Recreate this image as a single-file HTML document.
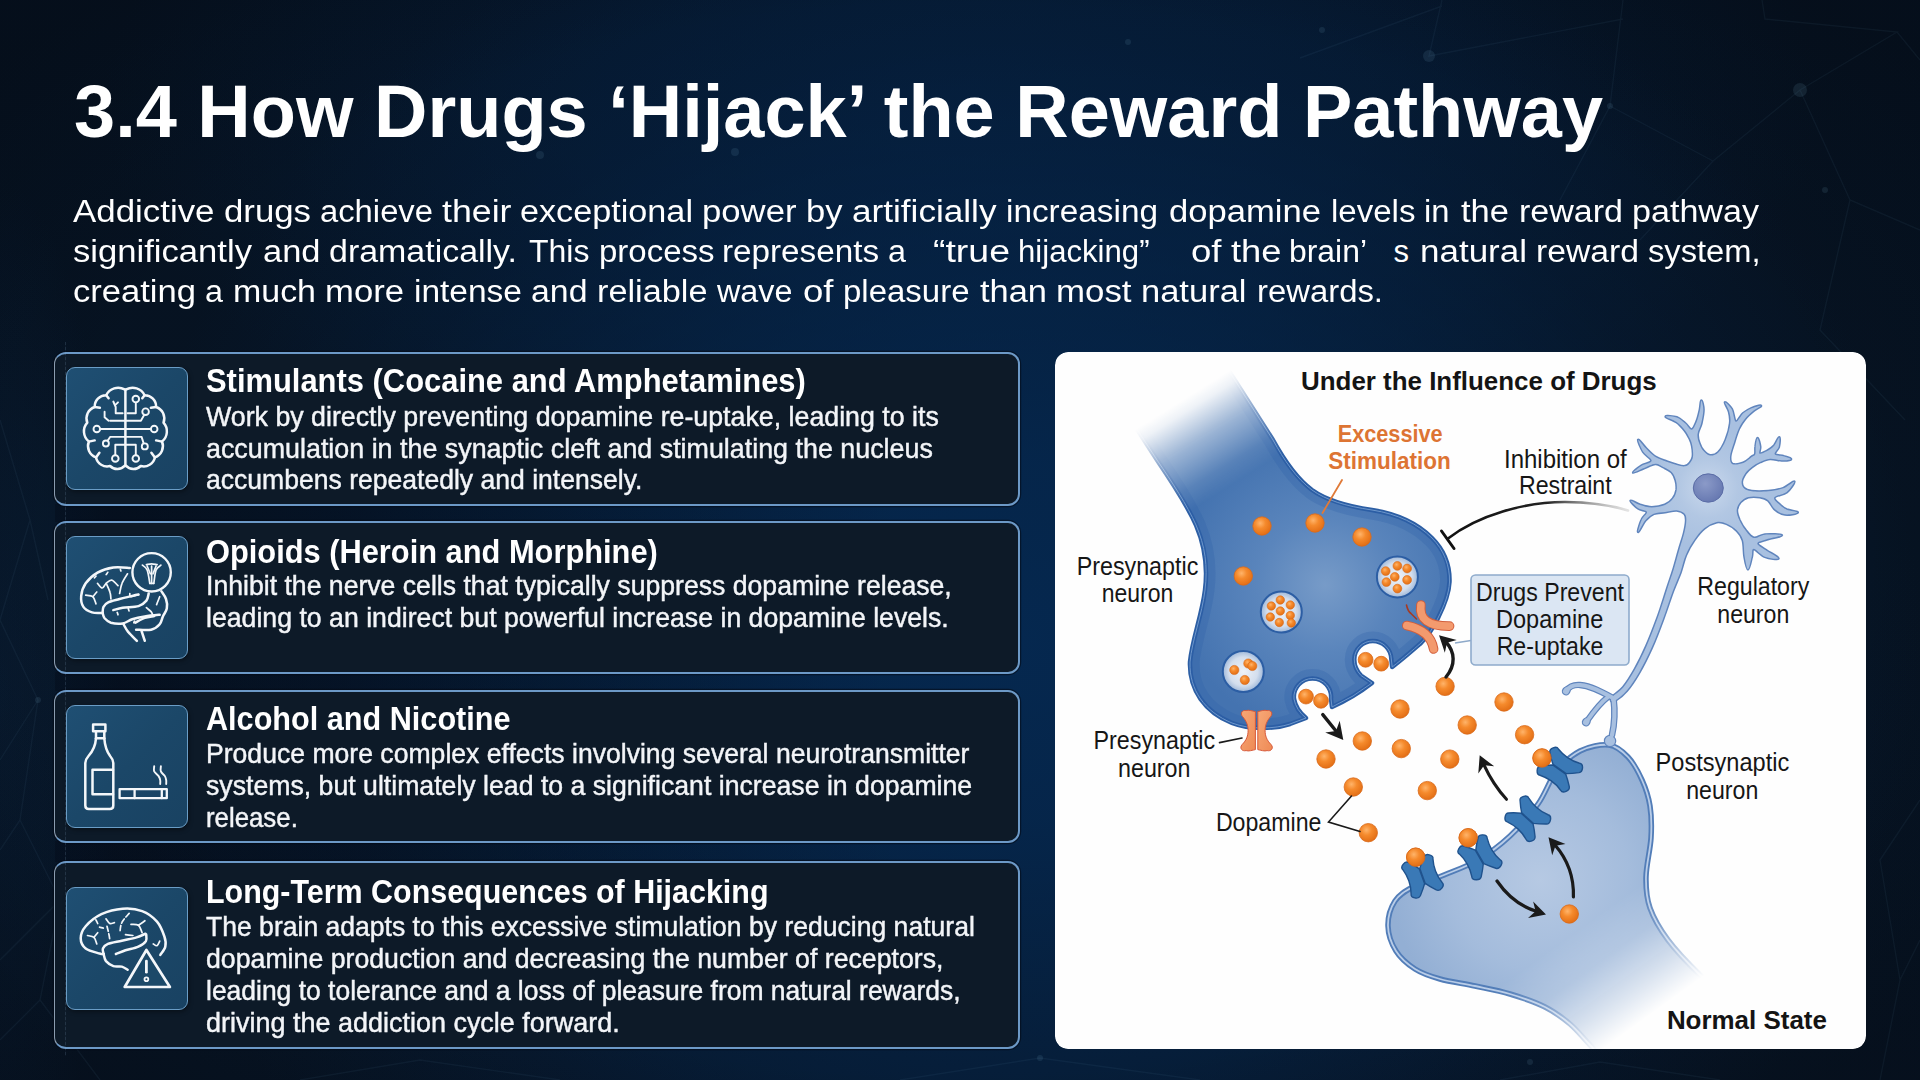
<!DOCTYPE html>
<html lang="en">
<head>
<meta charset="utf-8">
<title>3.4 How Drugs Hijack the Reward Pathway</title>
<style>
*{box-sizing:border-box;margin:0;padding:0}
html,body{width:1920px;height:1080px;overflow:hidden;background:#061322}
body{font-family:"Liberation Sans",sans-serif;color:#fff;position:relative}
#bg{position:absolute;left:0;top:0;width:1920px;height:1080px;
 background:
  radial-gradient(ellipse 1250px 740px at 960px 540px,rgba(3,7,14,0) 72%,rgba(3,7,14,.3) 100%),
  radial-gradient(ellipse 900px 800px at 1020px 640px,rgba(5,42,84,.9) 0%,rgba(5,42,84,.8) 22%,rgba(5,40,80,.55) 50%,rgba(6,36,72,.28) 75%,rgba(6,30,60,0) 100%),
  radial-gradient(ellipse 860px 400px at 960px 110px,rgba(5,30,60,.72) 0%,rgba(5,30,60,.5) 45%,rgba(5,30,60,0) 100%),
  radial-gradient(ellipse 120px 520px at 0px 700px,rgba(12,40,72,.32) 0%,rgba(12,40,72,.2) 55%,rgba(12,40,72,0) 100%),
  linear-gradient(180deg,#061221 0%,#061322 50%,#071424 100%);}
.gap{position:absolute;left:55px;width:963px;background:linear-gradient(90deg,rgba(3,10,24,.42) 0%,rgba(3,10,24,.34) 30%,rgba(3,10,24,.12) 65%,rgba(3,10,24,0) 88%)}
.t{position:absolute;white-space:pre;color:#fff;transform-origin:0 50%}
.card{position:absolute;left:54px;width:966px;border:2px solid #6c99c7;border-left:1.6px solid #8b9db0;border-radius:12px;background:#0d1a28;box-shadow:0 0 0 1.2px rgba(3,10,22,.6)}
.ico{position:absolute;left:65.5px;width:122px;height:123px;border:1.8px solid #6a9dc6;border-radius:9px;background:linear-gradient(135deg,#1f4f73 0%,#1b4768 50%,#194262 100%);box-shadow:1px 2px 4px rgba(0,0,0,.35)}
.ico svg{position:absolute;left:-.3px;top:-.9px}
</style>
</head>
<body>
<div id="bg"></div>
<svg width="1920" height="1080" viewBox="0 0 1920 1080" style="position:absolute;left:0;top:0" fill="none" stroke="#8fc0ee" stroke-opacity=".055" stroke-width="1.4">
<path d="M1300,58 L1442,6 M1442,0 L1429,56 L1623,19 M1623,0 L1610,106 L1560,200 M1762,0 L1765,19 L1897,32 L1800,90 L1713,161 L1640,240 M1897,32 L1920,60 M1800,90 L1850,200 L1920,230 M1850,200 L1820,330 L1905,420 M1610,106 L1713,161"/>
<path d="M0,620 L38,700 L20,820 L60,900 L0,960 M38,700 L0,760 M20,820 L0,850 M60,900 L40,1000 L100,1080 M40,1000 L0,1040 M0,420 L30,520 L0,620 M30,520 L48,600"/>
<path d="M300,1080 L420,1060 L560,1080 M900,1080 L1040,1058 L1200,1080 M1500,1080 L1600,1062 L1720,1080 M1880,1080 L1900,980 L1920,940 M1900,980 L1880,860 L1920,800"/>
<g fill="#8fd0f0" fill-opacity=".1" stroke="none">
<circle cx="1429" cy="56" r="6"/><circle cx="1800" cy="90" r="7"/><circle cx="540" cy="155" r="4"/><circle cx="735" cy="152" r="4"/><circle cx="1128" cy="42" r="3"/><circle cx="1322" cy="30" r="3"/><circle cx="1610" cy="106" r="3"/><circle cx="1825" cy="190" r="3"/>
<circle cx="38" cy="700" r="3"/><circle cx="1530" cy="1062" r="3"/><circle cx="1040" cy="1058" r="3"/>
</g>
</svg>

<div class="gap" style="top:504px;height:18px"></div><div class="gap" style="top:672px;height:19px"></div><div class="gap" style="top:841px;height:21px"></div>
<div class="card" style="top:352.2px;height:153.4px"></div>
<div class="card" style="top:520.6px;height:153.2px"></div>
<div class="card" style="top:690px;height:153.2px"></div>
<div class="card" style="top:861.4px;height:188px"></div>
<div class="ico" style="top:367px"><svg width="122" height="122" viewBox="0 0 122 122" fill="none" stroke="#f4f7fa" stroke-width="2.5" stroke-linecap="round" stroke-linejoin="round"><path d="M58.6,22.4A13.3,13.3 0 0 0 40.2,28.2A11.3,11.3 0 0 0 28.7,40.0A12.0,12.0 0 0 0 21.3,55.7A13.0,13.0 0 0 0 22.9,74.6A11.9,11.9 0 0 0 30.0,90.4A11.4,11.4 0 0 0 44.1,99.0A10.2,10.2 0 0 0 58.9,98.6"/><path d="M60.2,22.4A13.3,13.3 0 0 1 78.6,28.2A11.3,11.3 0 0 1 90.1,40.0A12.0,12.0 0 0 1 97.5,55.7A13.0,13.0 0 0 1 96.0,74.6A11.9,11.9 0 0 1 88.9,90.4A11.4,11.4 0 0 1 74.7,99.0A10.2,10.2 0 0 1 59.9,98.6"/><path d="M59.4,22.7 L59.4,99.0"/><g stroke-width="1.9"><circle cx="30.8" cy="62.0" r="3.3"/><circle cx="88.2" cy="62.0" r="3.3"/><path d="M34.4,62.0 L84.6,62.0"/><circle cx="69.8" cy="32.1" r="3.3"/><path d="M69.8,35.7 L69.8,46.3 L61.5,46.3"/><circle cx="79.6" cy="44.7" r="3.3"/><path d="M78.0,48.2 L74.9,53.7 L44.1,53.7"/><path d="M47.3,34.5 L49.7,40.0 L49.7,46.3 L56.7,46.3"/><path d="M52.0,35.3 L48.9,38.4" stroke-dasharray="3 2"/><path d="M38.6,44.7 L38.6,50.2 L42.6,53.7"/><circle cx="39.9" cy="76.5" r="3.0"/><path d="M41.8,73.4 L44.1,69.9 L75.6,69.9 L77.5,75.9"/><circle cx="78.8" cy="79.4" r="3.0"/><circle cx="49.3" cy="91.5" r="3.3"/><circle cx="69.8" cy="91.5" r="3.3"/><path d="M49.3,88.0 L49.3,77.8 L69.8,77.8 L69.8,88.0"/></g><path d="M28.7,40.0 L33.9,40.8"/><path d="M90.1,40.0 L84.9,40.8"/><path d="M22.9,74.6 L28.7,73.4"/><path d="M96.0,74.6 L90.1,73.4"/><path d="M30.0,90.4 L33.4,85.7"/><path d="M88.9,90.4 L85.4,85.7"/><path d="M40.2,28.2 L42.6,31.3"/><path d="M78.6,28.2 L76.3,31.3"/></svg></div>
<div class="ico" style="top:536px"><svg width="122" height="122" viewBox="0 0 122 122" fill="none" stroke="#f4f7fa" stroke-width="2.5" stroke-linecap="round" stroke-linejoin="round"><path d="M63.8,31.9C61.1,31.8 52.7,30.8 47.3,31.5C41.9,32.3 36.1,34.0 31.5,36.6C27.0,39.2 22.5,43.4 19.7,47.3C17.0,51.2 15.6,56.0 15.2,59.9C14.8,63.8 15.6,68.2 17.4,70.9C19.2,73.7 22.8,75.4 26.0,76.4C29.2,77.4 34.8,76.8 36.6,76.9"/><path d="M36.6,76.9C36.9,77.8 37.2,80.6 38.6,82.3C40.0,83.9 41.9,85.8 44.9,86.7C47.9,87.5 53.2,88.0 56.7,87.4C60.3,86.9 62.5,84.4 66.2,83.2C69.9,82.0 74.2,81.1 78.8,80.4C83.4,79.6 91.3,79.0 93.7,78.8"/><path d="M36.6,76.9C36.7,75.9 36.5,72.7 37.5,70.9C38.5,69.1 39.9,67.5 42.6,66.2C45.2,64.9 49.7,64.1 53.6,63.0C57.5,62.0 63.0,60.6 66.2,59.9C69.3,59.2 71.4,58.8 72.5,58.6"/><path d="M95.3,55.2C96.1,56.5 99.1,60.2 100.0,63.0C101.0,65.9 101.4,69.6 100.8,72.5C100.3,75.4 98.1,77.7 96.9,80.4C95.7,83.0 95.7,86.0 93.7,88.2C91.8,90.5 89.0,92.8 85.1,93.7C81.1,94.7 72.6,93.7 70.1,93.7"/><path d="M57.5,88.2C58.3,89.5 60.0,93.4 62.3,96.1C64.5,98.9 69.5,103.3 70.9,104.8"/><path d="M75.6,95.3C75.9,96.1 76.7,98.5 77.2,100.0C77.7,101.6 78.5,104.0 78.8,104.8"/><path d="M47.3,74.1C48.9,73.7 52.5,72.4 56.7,71.7C60.9,71.0 68.6,71.3 72.5,70.1C76.4,68.9 78.7,66.7 80.4,64.6C82.1,62.5 82.3,58.7 82.7,57.5"/><path d="M69.3,86.7C70.9,85.9 75.6,83.0 78.8,81.9C81.9,80.8 86.7,80.4 88.2,80.0"/><circle cx="85.6" cy="36.3" r="19.2" stroke-width="2.4"/><g stroke-width="1.7"><path d="M76.4,29.2C77.2,30.0 79.9,30.9 81.1,33.9C82.4,36.9 83.4,45.1 83.8,47.3"/><path d="M94.9,29.2C94.1,30.0 91.3,30.9 90.1,33.9C88.9,36.9 88.2,45.1 87.8,47.3"/><path d="M80.4,28.7C81.2,28.6 83.8,27.8 85.6,27.8C87.3,27.8 90.2,28.6 91.1,28.7"/><path d="M83.8,47.3C84.5,47.3 87.1,47.3 87.8,47.3"/><path d="M85.6,30.0C85.6,32.9 85.6,44.4 85.6,47.3"/><path d="M81.1,30.0C81.7,31.3 83.8,36.5 84.3,37.8"/><path d="M90.1,30.0C89.6,31.3 87.5,36.5 87.0,37.8"/><path d="M61.5,37.8C60.5,39.4 57.3,44.0 56.0,47.3C54.6,50.6 54.0,55.8 53.6,57.5"/><path d="M40.2,47.3C40.9,48.9 43.4,54.1 44.1,56.7C44.9,59.4 44.8,62.0 44.9,63.0"/><path d="M31.5,47.3C32.3,48.1 34.8,52.0 36.3,52.0C37.7,52.0 38.6,48.6 40.2,47.3C41.8,46.0 43.7,43.7 45.7,44.1C47.7,44.5 51.0,48.7 52.0,49.7"/><path d="M19.7,59.1C20.9,59.4 25.1,59.2 26.8,60.7C28.5,62.1 29.4,66.6 30.0,67.8"/><path d="M26.8,60.7C27.5,59.9 30.1,56.7 30.8,56.0"/><path d="M28.4,41.8C28.7,41.5 29.7,40.5 30.0,40.2"/><path d="M40.2,38.6C40.5,38.2 41.5,36.7 41.8,36.3"/><path d="M54.4,33.4C54.5,33.7 54.8,34.7 54.9,35.0"/><path d="M63.8,57.5C64.0,58.1 63.2,60.5 64.6,60.7C66.1,60.9 71.2,59.0 72.5,58.6"/><path d="M51.2,76.4C51.4,76.8 51.9,78.4 52.0,78.8"/><path d="M62.3,72.5C62.4,72.9 62.9,74.5 63.0,74.9"/><path d="M80.4,71.7C81.1,72.4 84.0,74.5 85.1,75.6C86.1,76.8 86.4,78.3 86.7,78.8"/><path d="M93.7,60.7C93.2,62.0 91.1,67.2 90.6,68.6"/><path d="M67.8,86.7C67.9,86.4 68.4,85.3 68.6,85.1"/></g></svg></div>
<div class="ico" style="top:705px"><svg width="122" height="122" viewBox="0 0 122 122" fill="none" stroke="#f4f7fa" stroke-width="2.5" stroke-linecap="round" stroke-linejoin="round"><g stroke-width="2.5"><path d="M27.1,19.6 L39.4,19.6 L39.4,26.2 L27.1,26.2Z"/><path d="M30,26.2 L30,33.3 C29.5,40 27,46 22.5,51 C20.3,53.5 19.3,55.5 19.3,58 L19.3,100.5 Q19.3,104 22.8,104 L43.8,104 Q47.3,104 47.3,100.5 L47.3,58 C47.3,55.5 46.3,53.5 44.1,51 C40.5,46 38.8,40 38.3,33.3 L38.3,26.2"/><path d="M30.0,33.3 L38.3,33.3"/><path d="M47.0,64.8 L26.5,64.8 L26.5,89.2 L47.0,89.2"/></g><g stroke-width="2.3"><path d="M53.6,84.2 L100.8,84.2 L100.8,93.2 L53.6,93.2Z"/><path d="M68.6,84.2 L68.6,93.2"/><path d="M95.8,84.2 L95.8,93.2"/></g><g stroke-width="1.9"><path d="M88.2,61.2C88.2,62.1 87.5,64.7 88.2,66.4C89.0,68.1 91.6,69.7 92.6,71.1C93.6,72.6 94.0,73.8 94.2,75.1C94.5,76.4 94.2,78.3 94.2,79.0"/><path d="M94.9,61.2C94.9,62.1 94.2,64.7 94.9,66.4C95.5,68.1 98.1,69.7 98.9,71.1C99.8,72.6 100.0,73.8 100.2,75.1C100.4,76.4 100.2,78.3 100.2,79.0"/></g></svg></div>
<div class="ico" style="top:887px"><svg width="122" height="122" viewBox="0 0 122 122" fill="none" stroke="#f4f7fa" stroke-width="2.5" stroke-linecap="round" stroke-linejoin="round"><path d="M94.3,68.0C95.1,66.6 98.6,62.7 99.3,59.6C100.0,56.6 99.8,53.6 98.4,49.5C97.0,45.3 94.7,38.9 91.0,34.6C87.3,30.4 81.9,26.2 76.1,24.1C70.4,21.9 63.5,21.1 56.7,21.7C49.9,22.2 41.6,24.3 35.4,27.2C29.2,30.2 23.1,35.3 19.7,39.3C16.2,43.3 14.7,47.6 14.7,51.3C14.7,55.0 16.5,59.0 19.7,61.5C22.8,64.0 30.6,65.6 33.6,66.5C36.5,67.4 37.0,67.0 37.6,67.0"/><path d="M37.6,67.0C37.5,66.1 36.2,63.2 36.9,61.5C37.6,59.8 38.7,58.2 41.9,56.9C45.0,55.6 51.0,54.8 55.8,53.7C60.6,52.6 66.6,51.6 70.6,50.4C74.5,49.2 78.0,47.3 79.5,46.7"/><path d="M37.6,67.0C38.0,68.2 38.4,72.1 40.0,74.1C41.7,76.1 44.8,78.2 47.4,79.1C50.1,80.0 53.4,79.0 55.8,79.6C58.2,80.3 60.7,82.3 61.7,82.8"/><path d="M49.9,67.0C51.5,66.4 55.7,64.6 59.5,63.3C63.2,62.1 69.0,61.2 72.4,59.6C75.8,58.1 78.6,56.1 79.9,54.1C81.1,52.1 80.2,48.7 80.2,47.6"/><g stroke-width="1.7"><path d="M63.2,26.3C62.0,27.8 57.3,32.3 55.8,35.6C54.2,38.8 54.2,44.1 53.9,45.7" stroke-dasharray="5 2.5"/><path d="M41.0,39.3C41.3,40.5 42.4,44.5 42.8,46.7C43.3,48.8 43.6,51.3 43.7,52.2" stroke-dasharray="5 2.5"/><path d="M40.0,31.9C40.7,32.6 42.4,35.9 43.7,36.5C45.1,37.1 47.6,35.7 48.4,35.6" /><path d="M29.9,32.8C30.2,33.4 31.4,35.9 31.7,36.5" /><path d="M21.5,48.5C22.6,48.8 26.5,49.0 28.0,50.4C29.5,51.8 30.3,55.8 30.8,56.9" /><path d="M28.0,50.4C28.6,49.6 31.1,46.5 31.7,45.7" /><path d="M65.0,37.4C66.3,37.6 70.6,37.0 72.4,38.3C74.3,39.7 75.5,44.5 76.1,45.7" /><path d="M72.4,38.3C73.5,37.6 77.8,34.5 78.9,33.7" /><path d="M87.3,56.9C87.9,57.2 89.9,59.2 91.0,58.7C92.0,58.2 93.3,54.9 93.7,54.1" /><path d="M59.5,47.6C60.7,47.8 65.7,48.4 66.9,48.5" /><path d="M33.6,40.2C34.2,40.3 36.6,41.0 37.3,41.1" /></g><path d="M80.4,63.0 L103.9,100.0 L58.7,100.0 Z" fill="#1c4969" stroke-width="2.7"/><path d="M80.4,74.1 L80.4,85.2" stroke-width="2.8"/><circle cx="80.4" cy="92.2" r="1.9" stroke-width="1.8"/></svg></div>
<div style="position:absolute;left:64.8px;top:342px;width:1px;height:714px;background:repeating-linear-gradient(180deg,rgba(150,185,220,.16) 0 3px,rgba(150,185,220,.04) 3px 5px)"></div>
<div class="t" style="left:73.5px;top:67.36px;font-size:74px;line-height:89px;font-weight:700;transform:scaleX(0.9995);color:#ffffff">3.4 How Drugs ‘Hijack’ the Reward Pathway</div>
<div class="t" style="left:72.5px;top:193.46px;font-size:31px;line-height:37px;font-weight:400;transform:scaleX(1.1248);color:#ffffff">Addictive</div>
<div class="t" style="left:223.5px;top:193.46px;font-size:31px;line-height:37px;font-weight:400;transform:scaleX(1.1219);color:#ffffff">drugs</div>
<div class="t" style="left:319.5px;top:193.46px;font-size:31px;line-height:37px;font-weight:400;transform:scaleX(1.0575);color:#ffffff">achieve</div>
<div class="t" style="left:442.0px;top:193.46px;font-size:31px;line-height:37px;font-weight:400;transform:scaleX(1.1523);color:#ffffff">their</div>
<div class="t" style="left:520.0px;top:193.46px;font-size:31px;line-height:37px;font-weight:400;transform:scaleX(1.1030);color:#ffffff">exceptional</div>
<div class="t" style="left:702.0px;top:193.46px;font-size:31px;line-height:37px;font-weight:400;transform:scaleX(1.1192);color:#ffffff">power</div>
<div class="t" style="left:806.0px;top:193.46px;font-size:31px;line-height:37px;font-weight:400;transform:scaleX(1.1145);color:#ffffff">by</div>
<div class="t" style="left:852.0px;top:193.46px;font-size:31px;line-height:37px;font-weight:400;transform:scaleX(1.1336);color:#ffffff">artificially</div>
<div class="t" style="left:1006.0px;top:193.46px;font-size:31px;line-height:37px;font-weight:400;transform:scaleX(1.0756);color:#ffffff">increasing</div>
<div class="t" style="left:1168.5px;top:193.46px;font-size:31px;line-height:37px;font-weight:400;transform:scaleX(1.1164);color:#ffffff">dopamine</div>
<div class="t" style="left:1331.0px;top:193.46px;font-size:31px;line-height:37px;font-weight:400;transform:scaleX(1.0660);color:#ffffff">levels</div>
<div class="t" style="left:1423.5px;top:193.46px;font-size:31px;line-height:37px;font-weight:400;transform:scaleX(1.0563);color:#ffffff">in</div>
<div class="t" style="left:1461.0px;top:193.46px;font-size:31px;line-height:37px;font-weight:400;transform:scaleX(1.1134);color:#ffffff">the</div>
<div class="t" style="left:1518.5px;top:193.46px;font-size:31px;line-height:37px;font-weight:400;transform:scaleX(1.0974);color:#ffffff">reward</div>
<div class="t" style="left:1632.0px;top:193.46px;font-size:31px;line-height:37px;font-weight:400;transform:scaleX(1.0999);color:#ffffff">pathway</div>
<div class="t" style="left:72.5px;top:233.06px;font-size:31px;line-height:37px;font-weight:400;transform:scaleX(1.1170);color:#ffffff">significantly</div>
<div class="t" style="left:262.5px;top:233.06px;font-size:31px;line-height:37px;font-weight:400;transform:scaleX(1.1114);color:#ffffff">and</div>
<div class="t" style="left:328.5px;top:233.06px;font-size:31px;line-height:37px;font-weight:400;transform:scaleX(1.0949);color:#ffffff">dramatically.</div>
<div class="t" style="left:528.5px;top:233.06px;font-size:31px;line-height:37px;font-weight:400;transform:scaleX(1.0328);color:#ffffff">This</div>
<div class="t" style="left:598.5px;top:233.06px;font-size:31px;line-height:37px;font-weight:400;transform:scaleX(1.0641);color:#ffffff">process</div>
<div class="t" style="left:722.0px;top:233.06px;font-size:31px;line-height:37px;font-weight:400;transform:scaleX(1.0719);color:#ffffff">represents</div>
<div class="t" style="left:887.5px;top:233.06px;font-size:31px;line-height:37px;font-weight:400;transform:scaleX(1.0435);color:#ffffff">a</div>
<div class="t" style="left:932.5px;top:233.06px;font-size:31px;line-height:37px;font-weight:400;transform:scaleX(1.2078);color:#ffffff">“true</div>
<div class="t" style="left:1017.5px;top:233.06px;font-size:31px;line-height:37px;font-weight:400;transform:scaleX(1.0042);color:#ffffff">hijacking”</div>
<div class="t" style="left:1191.0px;top:233.06px;font-size:31px;line-height:37px;font-weight:400;transform:scaleX(1.1795);color:#ffffff">of</div>
<div class="t" style="left:1231.0px;top:233.06px;font-size:31px;line-height:37px;font-weight:400;transform:scaleX(1.1714);color:#ffffff">the</div>
<div class="t" style="left:1288.5px;top:233.06px;font-size:31px;line-height:37px;font-weight:400;transform:scaleX(1.0286);color:#ffffff">brain’</div>
<div class="t" style="left:1393.5px;top:233.06px;font-size:31px;line-height:37px;font-weight:400;transform:scaleX(1.0000);color:#ffffff">s</div>
<div class="t" style="left:1419.5px;top:233.06px;font-size:31px;line-height:37px;font-weight:400;transform:scaleX(1.1287);color:#ffffff">natural</div>
<div class="t" style="left:1536.0px;top:233.06px;font-size:31px;line-height:37px;font-weight:400;transform:scaleX(1.0869);color:#ffffff">reward</div>
<div class="t" style="left:1647.5px;top:233.06px;font-size:31px;line-height:37px;font-weight:400;transform:scaleX(1.0534);color:#ffffff">system,</div>
<div class="t" style="left:72.5px;top:272.66px;font-size:31px;line-height:37px;font-weight:400;transform:scaleX(1.1152);color:#ffffff">creating</div>
<div class="t" style="left:205.0px;top:272.66px;font-size:31px;line-height:37px;font-weight:400;transform:scaleX(1.0435);color:#ffffff">a</div>
<div class="t" style="left:232.5px;top:272.66px;font-size:31px;line-height:37px;font-weight:400;transform:scaleX(1.0948);color:#ffffff">much</div>
<div class="t" style="left:325.0px;top:272.66px;font-size:31px;line-height:37px;font-weight:400;transform:scaleX(1.1183);color:#ffffff">more</div>
<div class="t" style="left:413.5px;top:272.66px;font-size:31px;line-height:37px;font-weight:400;transform:scaleX(1.0803);color:#ffffff">intense</div>
<div class="t" style="left:531.0px;top:272.66px;font-size:31px;line-height:37px;font-weight:400;transform:scaleX(1.0921);color:#ffffff">and</div>
<div class="t" style="left:597.0px;top:272.66px;font-size:31px;line-height:37px;font-weight:400;transform:scaleX(1.1055);color:#ffffff">reliable</div>
<div class="t" style="left:717.0px;top:272.66px;font-size:31px;line-height:37px;font-weight:400;transform:scaleX(1.0432);color:#ffffff">wave</div>
<div class="t" style="left:802.5px;top:272.66px;font-size:31px;line-height:37px;font-weight:400;transform:scaleX(1.1795);color:#ffffff">of</div>
<div class="t" style="left:842.5px;top:272.66px;font-size:31px;line-height:37px;font-weight:400;transform:scaleX(1.0637);color:#ffffff">pleasure</div>
<div class="t" style="left:979.5px;top:272.66px;font-size:31px;line-height:37px;font-weight:400;transform:scaleX(1.1103);color:#ffffff">than</div>
<div class="t" style="left:1056.0px;top:272.66px;font-size:31px;line-height:37px;font-weight:400;transform:scaleX(1.1237);color:#ffffff">most</div>
<div class="t" style="left:1141.0px;top:272.66px;font-size:31px;line-height:37px;font-weight:400;transform:scaleX(1.1129);color:#ffffff">natural</div>
<div class="t" style="left:1257.0px;top:272.66px;font-size:31px;line-height:37px;font-weight:400;transform:scaleX(1.0599);color:#ffffff">rewards.</div>
<div class="t" style="left:206.2px;top:362.31px;font-size:32.3px;line-height:39px;font-weight:700;transform:scaleX(0.9568);color:#ffffff">Stimulants (Cocaine and Amphetamines)</div>
<div class="t" style="left:206.2px;top:399.80px;font-size:28px;line-height:34px;font-weight:400;transform:scaleX(0.9557);color:#f3f5f8;-webkit-text-stroke:.45px #f3f5f8">Work by directly preventing dopamine re-uptake, leading to its</div>
<div class="t" style="left:206.2px;top:431.60px;font-size:28px;line-height:34px;font-weight:400;transform:scaleX(0.9589);color:#f3f5f8;-webkit-text-stroke:.45px #f3f5f8">accumulation in the synaptic cleft and stimulating the nucleus</div>
<div class="t" style="left:206.2px;top:463.40px;font-size:28px;line-height:34px;font-weight:400;transform:scaleX(0.9482);color:#f3f5f8;-webkit-text-stroke:.45px #f3f5f8">accumbens repeatedly and intensely.</div>
<div class="t" style="left:206.2px;top:532.51px;font-size:32.3px;line-height:39px;font-weight:700;transform:scaleX(0.9538);color:#ffffff">Opioids (Heroin and Morphine)</div>
<div class="t" style="left:206.2px;top:569.20px;font-size:28px;line-height:34px;font-weight:400;transform:scaleX(0.9507);color:#f3f5f8;-webkit-text-stroke:.45px #f3f5f8">Inhibit the nerve cells that typically suppress dopamine release,</div>
<div class="t" style="left:206.2px;top:601.40px;font-size:28px;line-height:34px;font-weight:400;transform:scaleX(0.9525);color:#f3f5f8;-webkit-text-stroke:.45px #f3f5f8">leading to an indirect but powerful increase in dopamine levels.</div>
<div class="t" style="left:206.2px;top:699.81px;font-size:32.3px;line-height:39px;font-weight:700;transform:scaleX(0.9482);color:#ffffff">Alcohol and Nicotine</div>
<div class="t" style="left:206.2px;top:737.00px;font-size:28px;line-height:34px;font-weight:400;transform:scaleX(0.9495);color:#f3f5f8;-webkit-text-stroke:.45px #f3f5f8">Produce more complex effects involving several neurotransmitter</div>
<div class="t" style="left:206.2px;top:769.00px;font-size:28px;line-height:34px;font-weight:400;transform:scaleX(0.9522);color:#f3f5f8;-webkit-text-stroke:.45px #f3f5f8">systems, but ultimately lead to a significant increase in dopamine</div>
<div class="t" style="left:206.2px;top:801.20px;font-size:28px;line-height:34px;font-weight:400;transform:scaleX(0.9215);color:#f3f5f8;-webkit-text-stroke:.45px #f3f5f8">release.</div>
<div class="t" style="left:206.2px;top:872.51px;font-size:32.3px;line-height:39px;font-weight:700;transform:scaleX(0.9422);color:#ffffff">Long-Term Consequences of Hijacking</div>
<div class="t" style="left:206.2px;top:909.80px;font-size:28px;line-height:34px;font-weight:400;transform:scaleX(0.9481);color:#f3f5f8;-webkit-text-stroke:.45px #f3f5f8">The brain adapts to this excessive stimulation by reducing natural</div>
<div class="t" style="left:206.2px;top:941.60px;font-size:28px;line-height:34px;font-weight:400;transform:scaleX(0.9533);color:#f3f5f8;-webkit-text-stroke:.45px #f3f5f8">dopamine production and decreasing the number of receptors,</div>
<div class="t" style="left:206.2px;top:973.80px;font-size:28px;line-height:34px;font-weight:400;transform:scaleX(0.9450);color:#f3f5f8;-webkit-text-stroke:.45px #f3f5f8">leading to tolerance and a loss of pleasure from natural rewards,</div>
<div class="t" style="left:206.2px;top:1006.00px;font-size:28px;line-height:34px;font-weight:400;transform:scaleX(0.9633);color:#f3f5f8;-webkit-text-stroke:.45px #f3f5f8">driving the addiction cycle forward.</div>
<svg id="figsvg" width="1920" height="1080" viewBox="0 0 1920 1080" style="position:absolute;left:0;top:0">
<clipPath id="cpFig"><rect x="1055" y="352" width="811" height="697" rx="13"/></clipPath>
<g clip-path="url(#cpFig)">
<defs>
<radialGradient id="gPre" gradientUnits="userSpaceOnUse" cx="1325" cy="585" r="150">
 <stop offset="0" stop-color="#779bc8"/><stop offset=".45" stop-color="#5a85bc"/><stop offset="1" stop-color="#4473b0"/>
</radialGradient>
<linearGradient id="gAxFade" gradientUnits="userSpaceOnUse" x1="1181" y1="401" x2="1233" y2="484">
 <stop offset="0" stop-color="#000"/><stop offset=".12" stop-color="#161616"/><stop offset=".45" stop-color="#8a8a8a"/><stop offset=".8" stop-color="#e2e2e2"/><stop offset="1" stop-color="#fff"/>
</linearGradient>
<mask id="mPre" maskUnits="userSpaceOnUse" x="1055" y="352" width="811" height="697">
 <rect x="1055" y="352" width="811" height="697" fill="#fff"/>
 <polygon points="1055,352 1420,352 1340,420 1100,570 1055,570" fill="url(#gAxFade)"/>
</mask>
<radialGradient id="gPost" gradientUnits="userSpaceOnUse" cx="1540" cy="880" r="150">
 <stop offset="0" stop-color="#b6c9e3"/><stop offset=".6" stop-color="#a4bcdc"/><stop offset="1" stop-color="#93afd4"/>
</radialGradient>
<linearGradient id="gPostFade" gradientUnits="userSpaceOnUse" x1="1585" y1="925" x2="1650" y2="1015">
 <stop offset="0" stop-color="#fff"/><stop offset=".35" stop-color="#ccc"/><stop offset="1" stop-color="#000"/>
</linearGradient>
<mask id="mPost" maskUnits="userSpaceOnUse" x="1055" y="352" width="811" height="697">
 <rect x="1055" y="352" width="811" height="697" fill="url(#gPostFade)"/>
</mask>
<radialGradient id="gDot" cx=".4" cy=".35" r=".65">
 <stop offset="0" stop-color="#ffb46a"/><stop offset=".45" stop-color="#f58a2c"/><stop offset="1" stop-color="#e36f16"/>
</radialGradient>
<radialGradient id="gVes" cx=".5" cy=".5" r=".5">
 <stop offset="0" stop-color="#eef2f8"/><stop offset=".7" stop-color="#d3deed"/><stop offset="1" stop-color="#9fb8d9"/>
</radialGradient>
<radialGradient id="gSoma" gradientUnits="userSpaceOnUse" cx="1708" cy="488" r="60">
 <stop offset="0" stop-color="#c9d8ec"/><stop offset=".5" stop-color="#b2c7e3"/><stop offset="1" stop-color="#a8c0e0"/>
</radialGradient>
<radialGradient id="gNuc" cx=".4" cy=".35" r=".7">
 <stop offset="0" stop-color="#8b9ac8"/><stop offset="1" stop-color="#6577b0"/>
</radialGradient>
<linearGradient id="gTr" x1="0" y1="0" x2="1" y2="1">
 <stop offset="0" stop-color="#f7a877"/><stop offset="1" stop-color="#ee8a55"/>
</linearGradient>
<linearGradient id="gInh" gradientUnits="userSpaceOnUse" x1="1448" y1="0" x2="1628" y2="0">
 <stop offset="0" stop-color="#111"/><stop offset=".55" stop-color="#222"/><stop offset="1" stop-color="#bbb" stop-opacity=".4"/>
</linearGradient>
<symbol id="trn" overflow="visible">
 <path d="M-1.2,-19 L-1.2,19 C-4,19.5 -8,21 -10.5,20 C-14.5,21 -17.5,17.5 -14.5,14 C-10,9.5 -8.5,5 -8.5,0 C-8.5,-5 -10,-9.5 -14,-14 C-17,-17.5 -14,-21 -10.5,-20 C-8,-21 -4,-19.5 -1.2,-19Z"/>
 <path d="M1.2,-19 L1.2,19 C4,19.5 8,21 10.5,20 C14.5,21 17.5,17.5 14.5,14 C10,9.5 8.5,5 8.5,0 C8.5,-5 10,-9.5 14,-14 C17,-17.5 14,-21 10.5,-20 C8,-21 4,-19.5 1.2,-19Z"/>
</symbol>
<symbol id="rec" overflow="visible">
 <path d="M-0.35,-7.5 Q-3.5,-12 -8.5,-17 C-11,-20 -18,-15.5 -16,-12 C-14.8,-8 -14.2,-4 -14.2,0.5 C-14.2,5 -15,9.5 -16.5,13.5 C-18.5,17.5 -11.5,21.5 -8.5,18.5 Q-3.5,13 -0.35,8.5Z"/>
 <path d="M0.35,-7.5 Q3.5,-12 8.5,-17 C11,-20 18,-15.5 16,-12 C14.8,-8 14.2,-4 14.2,0.5 C14.2,5 15,9.5 16.5,13.5 C18.5,17.5 11.5,21.5 8.5,18.5 Q3.5,13 0.35,8.5Z"/>
</symbol>
</defs>
<rect x="1055" y="352" width="811" height="697" rx="13" fill="#fefefe"/>
<g mask="url(#mPost)">
<path d="M1609.0,745.0C1617.0,746.0 1622.5,751.2 1628.0,757.0C1633.5,762.8 1638.3,771.8 1642.0,780.0C1645.7,788.2 1648.5,796.3 1650.0,806.0C1651.5,815.7 1651.7,826.2 1651.0,838.0C1650.3,849.8 1646.2,865.3 1646.0,877.0C1645.8,888.7 1646.3,897.5 1650.0,908.0C1653.7,918.5 1659.7,928.8 1668.0,940.0C1676.3,951.2 1688.0,963.3 1700.0,975.0C1712.0,986.7 1740.0,992.5 1740.0,1010.0C1740.0,1027.5 1720.0,1069.2 1700.0,1080.0C1680.0,1090.8 1638.2,1080.7 1620.0,1075.0C1601.8,1069.3 1599.3,1054.5 1591.0,1046.0C1582.7,1037.5 1577.7,1030.5 1570.0,1024.0C1562.3,1017.5 1555.0,1012.0 1545.0,1007.0C1535.0,1002.0 1521.7,997.5 1510.0,994.0C1498.3,990.5 1486.7,988.5 1475.0,986.0C1463.3,983.5 1450.0,981.8 1440.0,979.0C1430.0,976.2 1422.3,973.7 1415.0,969.0C1407.7,964.3 1400.5,958.2 1396.0,951.0C1391.5,943.8 1388.2,934.3 1388.0,926.0C1387.8,917.7 1390.8,907.5 1395.0,901.0C1399.2,894.5 1404.8,891.3 1413.0,887.0C1421.2,882.7 1433.2,879.5 1444.0,875.0C1454.8,870.5 1467.0,866.5 1478.0,860.0C1489.0,853.5 1500.0,845.3 1510.0,836.0C1520.0,826.7 1530.3,814.7 1538.0,804.0C1545.7,793.3 1549.0,780.8 1556.0,772.0C1563.0,763.2 1571.2,755.5 1580.0,751.0C1588.8,746.5 1601.0,744.0 1609.0,745.0Z" fill="url(#gPost)" stroke="#527db8" stroke-width="5.5" stroke-linejoin="round"/>
<path d="M1609.0,745.0C1617.0,746.0 1622.5,751.2 1628.0,757.0C1633.5,762.8 1638.3,771.8 1642.0,780.0C1645.7,788.2 1648.5,796.3 1650.0,806.0C1651.5,815.7 1651.7,826.2 1651.0,838.0C1650.3,849.8 1646.2,865.3 1646.0,877.0C1645.8,888.7 1646.3,897.5 1650.0,908.0C1653.7,918.5 1659.7,928.8 1668.0,940.0C1676.3,951.2 1688.0,963.3 1700.0,975.0C1712.0,986.7 1740.0,992.5 1740.0,1010.0C1740.0,1027.5 1720.0,1069.2 1700.0,1080.0C1680.0,1090.8 1638.2,1080.7 1620.0,1075.0C1601.8,1069.3 1599.3,1054.5 1591.0,1046.0C1582.7,1037.5 1577.7,1030.5 1570.0,1024.0C1562.3,1017.5 1555.0,1012.0 1545.0,1007.0C1535.0,1002.0 1521.7,997.5 1510.0,994.0C1498.3,990.5 1486.7,988.5 1475.0,986.0C1463.3,983.5 1450.0,981.8 1440.0,979.0C1430.0,976.2 1422.3,973.7 1415.0,969.0C1407.7,964.3 1400.5,958.2 1396.0,951.0C1391.5,943.8 1388.2,934.3 1388.0,926.0C1387.8,917.7 1390.8,907.5 1395.0,901.0C1399.2,894.5 1404.8,891.3 1413.0,887.0C1421.2,882.7 1433.2,879.5 1444.0,875.0C1454.8,870.5 1467.0,866.5 1478.0,860.0C1489.0,853.5 1500.0,845.3 1510.0,836.0C1520.0,826.7 1530.3,814.7 1538.0,804.0C1545.7,793.3 1549.0,780.8 1556.0,772.0C1563.0,763.2 1571.2,755.5 1580.0,751.0C1588.8,746.5 1601.0,744.0 1609.0,745.0Z" fill="none" stroke="#b9cde8" stroke-width="1.8"/>
</g>
<g fill="none" stroke-linecap="round" stroke-linejoin="round" stroke="#6085bd">
<path d="M1614,698.5 C1604,693 1592,686 1580,685 C1574,684.5 1569,687 1566.5,690.5" stroke-width="6.4"/>
<path d="M1608,697 C1600,703 1594,711 1587,721" stroke-width="6.2"/>
<path d="M1613.5,698 C1615,710 1615,722 1612,735" stroke-width="6.6"/>
<path d="M1566.5,690.5 l-.5,.8 M1586.5,721.5 l-.5,.8" stroke-width="8.4"/>
<path d="M1610,741 l.1,.1" stroke-width="12.4"/>
<path d="M1665.8,416.7C1665.8,415.9 1673.5,416.4 1676.7,417.5C1679.9,418.6 1682.5,421.3 1685.0,423.3C1687.5,425.4 1689.7,429.9 1691.7,429.7C1693.6,429.4 1695.3,424.9 1696.7,421.7C1698.1,418.4 1699.2,413.5 1700.0,410.0C1700.8,406.5 1700.8,400.8 1701.3,400.8C1701.9,400.8 1703.4,406.2 1703.3,410.0C1703.3,413.8 1702.1,419.3 1701.2,423.3C1700.2,427.4 1697.8,430.8 1697.5,434.2C1697.2,437.5 1698.2,440.6 1699.2,443.3C1700.1,446.1 1701.5,448.8 1703.3,450.8C1705.1,452.9 1707.5,455.2 1710.0,455.5C1712.5,455.8 1715.7,455.1 1718.3,452.5C1721.0,449.9 1723.8,444.9 1725.8,440.0C1727.8,435.1 1729.8,428.1 1730.3,423.3C1730.9,418.6 1730.1,415.1 1729.2,411.7C1728.3,408.2 1724.6,402.9 1725.0,402.5C1725.4,402.1 1729.9,406.0 1731.7,409.2C1733.5,412.4 1733.9,421.0 1735.8,421.7C1737.8,422.4 1740.7,415.6 1743.3,413.3C1746.0,411.1 1748.8,409.6 1751.7,408.3C1754.6,407.1 1760.6,405.4 1760.8,405.8C1761.1,406.2 1756.0,408.7 1753.3,410.8C1750.7,413.0 1747.4,415.7 1745.0,418.7C1742.6,421.6 1740.6,424.6 1738.7,428.7C1736.8,432.8 1735.1,438.7 1733.7,443.3C1732.2,448.0 1730.2,453.2 1730.0,456.7C1729.8,460.1 1730.3,463.1 1732.5,464.2C1734.7,465.2 1740.1,464.2 1743.3,463.0C1746.5,461.8 1749.7,458.5 1751.7,457.0C1753.7,455.5 1754.7,455.9 1755.3,454.2C1756.0,452.4 1755.3,449.3 1755.7,446.7C1756.0,444.0 1756.8,438.3 1757.5,438.3C1758.2,438.3 1759.7,444.1 1760.0,446.7C1760.3,449.2 1758.4,452.9 1759.5,453.7C1760.6,454.4 1764.2,452.6 1766.7,451.3C1769.1,450.0 1772.1,448.1 1774.2,445.8C1776.2,443.5 1778.4,437.4 1779.2,437.5C1779.9,437.6 1779.4,443.9 1778.7,446.7C1777.9,449.4 1773.9,452.6 1774.7,454.2C1775.4,455.8 1780.6,455.5 1783.3,456.3C1786.0,457.2 1791.1,458.5 1790.8,459.2C1790.6,459.8 1785.1,460.4 1781.7,460.3C1778.2,460.2 1773.6,458.4 1770.0,458.7C1766.4,458.9 1763.1,460.6 1760.0,462.0C1756.9,463.4 1754.1,465.1 1751.7,467.0C1749.2,468.9 1747.0,470.9 1745.3,473.3C1743.7,475.7 1741.9,478.9 1741.7,481.3C1741.4,483.8 1742.0,486.3 1743.7,488.0C1745.3,489.7 1747.6,490.8 1751.7,491.3C1755.8,491.9 1763.1,491.8 1768.3,491.3C1773.6,490.8 1779.0,489.9 1783.3,488.3C1787.6,486.7 1793.6,481.1 1794.2,481.7C1794.7,482.3 1790.0,489.4 1786.7,492.0C1783.3,494.6 1775.3,495.3 1774.2,497.5C1773.1,499.7 1777.9,503.0 1780.0,505.0C1782.1,507.0 1783.8,508.4 1786.7,509.7C1789.6,510.9 1797.8,511.7 1797.5,512.5C1797.2,513.3 1788.8,514.9 1785.0,514.3C1781.2,513.8 1777.8,511.7 1775.0,509.3C1772.2,507.0 1770.8,502.4 1768.3,500.3C1765.8,498.3 1763.3,497.6 1760.0,497.0C1756.7,496.4 1751.6,496.2 1748.3,497.0C1745.1,497.8 1742.3,499.8 1740.3,502.0C1738.4,504.2 1736.8,507.3 1736.7,510.3C1736.5,513.3 1737.9,516.7 1739.3,520.0C1740.8,523.3 1742.9,527.0 1745.3,530.0C1747.7,533.0 1750.4,537.2 1753.7,538.0C1756.9,538.8 1760.3,535.1 1765.0,534.7C1769.7,534.2 1781.4,534.6 1781.7,535.3C1781.9,536.1 1770.7,538.0 1766.7,539.3C1762.6,540.7 1757.6,541.6 1757.3,543.3C1757.1,545.1 1761.5,547.2 1765.0,549.7C1768.5,552.2 1778.3,557.2 1778.3,558.3C1778.3,559.5 1769.1,558.3 1765.0,556.7C1760.9,555.1 1755.9,548.7 1753.7,548.7C1751.4,548.7 1752.6,553.2 1751.7,556.7C1750.7,560.1 1749.2,569.2 1748.0,569.2C1746.8,569.2 1745.5,561.5 1744.7,556.7C1743.8,551.9 1744.3,544.7 1743.0,540.3C1741.7,535.9 1739.4,533.1 1736.7,530.3C1733.9,527.6 1730.0,525.1 1726.7,523.7C1723.3,522.3 1720.4,521.2 1716.7,522.0C1712.9,522.8 1707.9,525.3 1704.2,528.3C1700.4,531.3 1697.2,535.6 1694.2,540.0C1691.1,544.4 1688.1,549.6 1685.8,555.0C1683.5,560.4 1682.5,566.2 1680.4,572.2C1678.2,578.2 1675.7,583.2 1672.8,591.0C1669.9,598.8 1666.6,609.4 1663.0,618.9C1659.5,628.4 1655.4,639.2 1651.4,648.1C1647.4,656.9 1643.3,665.2 1639.2,672.2C1635.1,679.3 1630.8,685.9 1626.8,690.5C1622.9,695.2 1618.1,698.5 1615.5,700.2C1612.9,702.0 1612.0,701.6 1611.5,701.0C1611.0,700.4 1610.6,699.0 1612.5,696.8C1614.4,694.5 1619.4,692.0 1623.2,687.5C1626.9,683.0 1630.9,676.7 1634.8,669.8C1638.7,662.8 1642.8,654.7 1646.6,645.9C1650.5,637.2 1654.5,626.6 1658.0,617.1C1661.4,607.6 1664.6,596.9 1667.2,589.0C1669.8,581.1 1671.6,576.3 1673.6,569.8C1675.6,563.3 1677.4,556.1 1679.2,550.0C1680.9,543.9 1683.0,538.2 1684.2,533.3C1685.4,528.5 1686.2,524.1 1686.3,520.8C1686.4,517.6 1686.3,515.4 1684.7,513.7C1683.1,511.9 1679.9,510.6 1676.7,510.3C1673.4,510.1 1668.8,511.4 1665.0,512.0C1661.2,512.6 1656.9,512.3 1653.7,513.7C1650.4,515.1 1647.9,517.3 1645.3,520.3C1642.8,523.3 1638.9,531.7 1638.3,531.7C1637.7,531.6 1640.2,523.3 1641.7,520.0C1643.1,516.7 1647.6,513.9 1647.0,512.0C1646.4,510.1 1641.0,510.2 1638.3,508.3C1635.6,506.5 1630.6,501.4 1630.8,500.8C1631.1,500.3 1636.5,503.9 1640.0,505.0C1643.5,506.1 1647.5,507.5 1651.7,507.5C1655.8,507.5 1661.4,506.5 1665.0,505.0C1668.6,503.5 1671.4,500.8 1673.3,498.3C1675.3,495.8 1676.2,493.1 1676.7,490.0C1677.1,486.9 1676.7,483.0 1675.8,480.0C1675.0,477.0 1673.8,474.2 1671.7,472.0C1669.6,469.8 1666.1,468.4 1663.3,467.0C1660.6,465.6 1658.7,463.4 1655.3,463.7C1652.0,463.9 1647.0,466.9 1643.3,468.3C1639.7,469.8 1633.6,472.9 1633.3,472.5C1633.1,472.1 1638.6,467.8 1641.7,465.8C1644.7,463.9 1651.4,463.2 1651.7,460.8C1651.9,458.5 1645.6,455.1 1643.3,451.7C1641.1,448.2 1637.9,440.6 1638.3,440.0C1638.8,439.4 1643.1,445.6 1645.8,448.3C1648.6,451.1 1651.5,454.4 1655.0,456.7C1658.5,458.9 1663.1,460.3 1666.7,461.7C1670.3,463.1 1673.6,464.2 1676.7,465.0C1679.7,465.8 1682.8,466.7 1685.0,466.3C1687.2,466.0 1688.7,464.6 1690.0,463.0C1691.3,461.4 1692.6,459.5 1693.0,456.7C1693.4,453.8 1692.9,448.9 1692.3,445.8C1691.8,442.8 1690.9,440.9 1689.7,438.3C1688.4,435.8 1687.2,433.2 1685.0,430.5C1682.8,427.8 1679.9,424.3 1676.7,422.0C1673.5,419.7 1665.8,417.4 1665.8,416.7Z" fill="#6085bd" stroke-width="3"/>
</g>
<g fill="none" stroke-linecap="round" stroke-linejoin="round" stroke="#a8c0e0">
<path d="M1614,698.5 C1604,693 1592,686 1580,685 C1574,684.5 1569,687 1566.5,690.5" stroke-width="4.0"/>
<path d="M1608,697 C1600,703 1594,711 1587,721" stroke-width="3.8"/>
<path d="M1613.5,698 C1615,710 1615,722 1612,735" stroke-width="4.2"/>
<path d="M1566.5,690.5 l-.5,.8 M1586.5,721.5 l-.5,.8" stroke-width="6.0"/>
<path d="M1610,741 l.1,.1" stroke-width="10.0"/>
</g>
<path d="M1665.8,416.7C1665.8,415.9 1673.5,416.4 1676.7,417.5C1679.9,418.6 1682.5,421.3 1685.0,423.3C1687.5,425.4 1689.7,429.9 1691.7,429.7C1693.6,429.4 1695.3,424.9 1696.7,421.7C1698.1,418.4 1699.2,413.5 1700.0,410.0C1700.8,406.5 1700.8,400.8 1701.3,400.8C1701.9,400.8 1703.4,406.2 1703.3,410.0C1703.3,413.8 1702.1,419.3 1701.2,423.3C1700.2,427.4 1697.8,430.8 1697.5,434.2C1697.2,437.5 1698.2,440.6 1699.2,443.3C1700.1,446.1 1701.5,448.8 1703.3,450.8C1705.1,452.9 1707.5,455.2 1710.0,455.5C1712.5,455.8 1715.7,455.1 1718.3,452.5C1721.0,449.9 1723.8,444.9 1725.8,440.0C1727.8,435.1 1729.8,428.1 1730.3,423.3C1730.9,418.6 1730.1,415.1 1729.2,411.7C1728.3,408.2 1724.6,402.9 1725.0,402.5C1725.4,402.1 1729.9,406.0 1731.7,409.2C1733.5,412.4 1733.9,421.0 1735.8,421.7C1737.8,422.4 1740.7,415.6 1743.3,413.3C1746.0,411.1 1748.8,409.6 1751.7,408.3C1754.6,407.1 1760.6,405.4 1760.8,405.8C1761.1,406.2 1756.0,408.7 1753.3,410.8C1750.7,413.0 1747.4,415.7 1745.0,418.7C1742.6,421.6 1740.6,424.6 1738.7,428.7C1736.8,432.8 1735.1,438.7 1733.7,443.3C1732.2,448.0 1730.2,453.2 1730.0,456.7C1729.8,460.1 1730.3,463.1 1732.5,464.2C1734.7,465.2 1740.1,464.2 1743.3,463.0C1746.5,461.8 1749.7,458.5 1751.7,457.0C1753.7,455.5 1754.7,455.9 1755.3,454.2C1756.0,452.4 1755.3,449.3 1755.7,446.7C1756.0,444.0 1756.8,438.3 1757.5,438.3C1758.2,438.3 1759.7,444.1 1760.0,446.7C1760.3,449.2 1758.4,452.9 1759.5,453.7C1760.6,454.4 1764.2,452.6 1766.7,451.3C1769.1,450.0 1772.1,448.1 1774.2,445.8C1776.2,443.5 1778.4,437.4 1779.2,437.5C1779.9,437.6 1779.4,443.9 1778.7,446.7C1777.9,449.4 1773.9,452.6 1774.7,454.2C1775.4,455.8 1780.6,455.5 1783.3,456.3C1786.0,457.2 1791.1,458.5 1790.8,459.2C1790.6,459.8 1785.1,460.4 1781.7,460.3C1778.2,460.2 1773.6,458.4 1770.0,458.7C1766.4,458.9 1763.1,460.6 1760.0,462.0C1756.9,463.4 1754.1,465.1 1751.7,467.0C1749.2,468.9 1747.0,470.9 1745.3,473.3C1743.7,475.7 1741.9,478.9 1741.7,481.3C1741.4,483.8 1742.0,486.3 1743.7,488.0C1745.3,489.7 1747.6,490.8 1751.7,491.3C1755.8,491.9 1763.1,491.8 1768.3,491.3C1773.6,490.8 1779.0,489.9 1783.3,488.3C1787.6,486.7 1793.6,481.1 1794.2,481.7C1794.7,482.3 1790.0,489.4 1786.7,492.0C1783.3,494.6 1775.3,495.3 1774.2,497.5C1773.1,499.7 1777.9,503.0 1780.0,505.0C1782.1,507.0 1783.8,508.4 1786.7,509.7C1789.6,510.9 1797.8,511.7 1797.5,512.5C1797.2,513.3 1788.8,514.9 1785.0,514.3C1781.2,513.8 1777.8,511.7 1775.0,509.3C1772.2,507.0 1770.8,502.4 1768.3,500.3C1765.8,498.3 1763.3,497.6 1760.0,497.0C1756.7,496.4 1751.6,496.2 1748.3,497.0C1745.1,497.8 1742.3,499.8 1740.3,502.0C1738.4,504.2 1736.8,507.3 1736.7,510.3C1736.5,513.3 1737.9,516.7 1739.3,520.0C1740.8,523.3 1742.9,527.0 1745.3,530.0C1747.7,533.0 1750.4,537.2 1753.7,538.0C1756.9,538.8 1760.3,535.1 1765.0,534.7C1769.7,534.2 1781.4,534.6 1781.7,535.3C1781.9,536.1 1770.7,538.0 1766.7,539.3C1762.6,540.7 1757.6,541.6 1757.3,543.3C1757.1,545.1 1761.5,547.2 1765.0,549.7C1768.5,552.2 1778.3,557.2 1778.3,558.3C1778.3,559.5 1769.1,558.3 1765.0,556.7C1760.9,555.1 1755.9,548.7 1753.7,548.7C1751.4,548.7 1752.6,553.2 1751.7,556.7C1750.7,560.1 1749.2,569.2 1748.0,569.2C1746.8,569.2 1745.5,561.5 1744.7,556.7C1743.8,551.9 1744.3,544.7 1743.0,540.3C1741.7,535.9 1739.4,533.1 1736.7,530.3C1733.9,527.6 1730.0,525.1 1726.7,523.7C1723.3,522.3 1720.4,521.2 1716.7,522.0C1712.9,522.8 1707.9,525.3 1704.2,528.3C1700.4,531.3 1697.2,535.6 1694.2,540.0C1691.1,544.4 1688.1,549.6 1685.8,555.0C1683.5,560.4 1682.5,566.2 1680.4,572.2C1678.2,578.2 1675.7,583.2 1672.8,591.0C1669.9,598.8 1666.6,609.4 1663.0,618.9C1659.5,628.4 1655.4,639.2 1651.4,648.1C1647.4,656.9 1643.3,665.2 1639.2,672.2C1635.1,679.3 1630.8,685.9 1626.8,690.5C1622.9,695.2 1618.1,698.5 1615.5,700.2C1612.9,702.0 1612.0,701.6 1611.5,701.0C1611.0,700.4 1610.6,699.0 1612.5,696.8C1614.4,694.5 1619.4,692.0 1623.2,687.5C1626.9,683.0 1630.9,676.7 1634.8,669.8C1638.7,662.8 1642.8,654.7 1646.6,645.9C1650.5,637.2 1654.5,626.6 1658.0,617.1C1661.4,607.6 1664.6,596.9 1667.2,589.0C1669.8,581.1 1671.6,576.3 1673.6,569.8C1675.6,563.3 1677.4,556.1 1679.2,550.0C1680.9,543.9 1683.0,538.2 1684.2,533.3C1685.4,528.5 1686.2,524.1 1686.3,520.8C1686.4,517.6 1686.3,515.4 1684.7,513.7C1683.1,511.9 1679.9,510.6 1676.7,510.3C1673.4,510.1 1668.8,511.4 1665.0,512.0C1661.2,512.6 1656.9,512.3 1653.7,513.7C1650.4,515.1 1647.9,517.3 1645.3,520.3C1642.8,523.3 1638.9,531.7 1638.3,531.7C1637.7,531.6 1640.2,523.3 1641.7,520.0C1643.1,516.7 1647.6,513.9 1647.0,512.0C1646.4,510.1 1641.0,510.2 1638.3,508.3C1635.6,506.5 1630.6,501.4 1630.8,500.8C1631.1,500.3 1636.5,503.9 1640.0,505.0C1643.5,506.1 1647.5,507.5 1651.7,507.5C1655.8,507.5 1661.4,506.5 1665.0,505.0C1668.6,503.5 1671.4,500.8 1673.3,498.3C1675.3,495.8 1676.2,493.1 1676.7,490.0C1677.1,486.9 1676.7,483.0 1675.8,480.0C1675.0,477.0 1673.8,474.2 1671.7,472.0C1669.6,469.8 1666.1,468.4 1663.3,467.0C1660.6,465.6 1658.7,463.4 1655.3,463.7C1652.0,463.9 1647.0,466.9 1643.3,468.3C1639.7,469.8 1633.6,472.9 1633.3,472.5C1633.1,472.1 1638.6,467.8 1641.7,465.8C1644.7,463.9 1651.4,463.2 1651.7,460.8C1651.9,458.5 1645.6,455.1 1643.3,451.7C1641.1,448.2 1637.9,440.6 1638.3,440.0C1638.8,439.4 1643.1,445.6 1645.8,448.3C1648.6,451.1 1651.5,454.4 1655.0,456.7C1658.5,458.9 1663.1,460.3 1666.7,461.7C1670.3,463.1 1673.6,464.2 1676.7,465.0C1679.7,465.8 1682.8,466.7 1685.0,466.3C1687.2,466.0 1688.7,464.6 1690.0,463.0C1691.3,461.4 1692.6,459.5 1693.0,456.7C1693.4,453.8 1692.9,448.9 1692.3,445.8C1691.8,442.8 1690.9,440.9 1689.7,438.3C1688.4,435.8 1687.2,433.2 1685.0,430.5C1682.8,427.8 1679.9,424.3 1676.7,422.0C1673.5,419.7 1665.8,417.4 1665.8,416.7Z" fill="url(#gSoma)"/>
<ellipse cx="1708.3" cy="488" rx="15" ry="14.2" fill="url(#gNuc)" stroke="#5a6ca6" stroke-width="1"/>
<g mask="url(#mPre)">
<path d="M1118,400 L1157,460 C1172,482 1187,505 1196,525 C1205,546 1208,566 1205,590 C1202,615 1192,640 1190,662 C1189,690 1205,712 1232,723 C1250,730 1275,729 1290,724 L1306,718 Q1296,710 1294,699 A18.5,18.5 0 0 1 1312.5,678.5 A18.5,18.5 0 0 1 1331,699 L1332,707 Q1354,697 1372,683 L1361,675.5 Q1354,668 1354.3,659 A18.5,18.5 0 0 1 1372.8,641 A18.5,18.5 0 0 1 1391.3,659 L1392.2,667 C1404,658 1413,650 1421,643 C1428,636 1433,628 1438,618 C1444,606 1449,594 1449.5,582 C1450,566 1444,550 1432,538 C1418,524 1398,514 1372,510 C1345,506 1326,500 1312,490 C1296,478 1284,460 1273,440 L1222,360 Z" fill="url(#gPre)" stroke="#2c5ea4" stroke-width="4.5" stroke-linejoin="round"/>
<clipPath id="cpPre"><path d="M1118,400 L1157,460 C1172,482 1187,505 1196,525 C1205,546 1208,566 1205,590 C1202,615 1192,640 1190,662 C1189,690 1205,712 1232,723 C1250,730 1275,729 1290,724 L1306,718 Q1296,710 1294,699 A18.5,18.5 0 0 1 1312.5,678.5 A18.5,18.5 0 0 1 1331,699 L1332,707 Q1354,697 1372,683 L1361,675.5 Q1354,668 1354.3,659 A18.5,18.5 0 0 1 1372.8,641 A18.5,18.5 0 0 1 1391.3,659 L1392.2,667 C1404,658 1413,650 1421,643 C1428,636 1433,628 1438,618 C1444,606 1449,594 1449.5,582 C1450,566 1444,550 1432,538 C1418,524 1398,514 1372,510 C1345,506 1326,500 1312,490 C1296,478 1284,460 1273,440 L1222,360 Z"/></clipPath>
<path d="M1118,400 L1157,460 C1172,482 1187,505 1196,525 C1205,546 1208,566 1205,590 C1202,615 1192,640 1190,662 C1189,690 1205,712 1232,723 C1250,730 1275,729 1290,724 L1306,718 Q1296,710 1294,699 A18.5,18.5 0 0 1 1312.5,678.5 A18.5,18.5 0 0 1 1331,699 L1332,707 Q1354,697 1372,683 L1361,675.5 Q1354,668 1354.3,659 A18.5,18.5 0 0 1 1372.8,641 A18.5,18.5 0 0 1 1391.3,659 L1392.2,667 C1404,658 1413,650 1421,643 C1428,636 1433,628 1438,618 C1444,606 1449,594 1449.5,582 C1450,566 1444,550 1432,538 C1418,524 1398,514 1372,510 C1345,506 1326,500 1312,490 C1296,478 1284,460 1273,440 L1222,360 Z" fill="none" stroke="#2f62a8" stroke-opacity=".28" stroke-width="19" stroke-linejoin="round" clip-path="url(#cpPre)"/>

<path d="M1118,400 L1157,460 C1172,482 1187,505 1196,525 C1205,546 1208,566 1205,590 C1202,615 1192,640 1190,662 C1189,690 1205,712 1232,723 C1250,730 1275,729 1290,724 L1306,718 Q1296,710 1294,699 A18.5,18.5 0 0 1 1312.5,678.5 A18.5,18.5 0 0 1 1331,699 L1332,707 Q1354,697 1372,683 L1361,675.5 Q1354,668 1354.3,659 A18.5,18.5 0 0 1 1372.8,641 A18.5,18.5 0 0 1 1391.3,659 L1392.2,667 C1404,658 1413,650 1421,643 C1428,636 1433,628 1438,618 C1444,606 1449,594 1449.5,582 C1450,566 1444,550 1432,538 C1418,524 1398,514 1372,510 C1345,506 1326,500 1312,490 C1296,478 1284,460 1273,440 L1222,360 Z" fill="none" stroke="#6d97cc" stroke-width="1" stroke-linejoin="round"/>
</g>
<circle cx="1397.4" cy="576.9" r="20.5" fill="url(#gVes)" stroke="#2c5ea4" stroke-width="2"/>
<circle cx="1385.7" cy="571.1" r="4.4" fill="url(#gDot)" stroke="#d96a1a" stroke-width=".6"/>
<circle cx="1397.4" cy="565.9" r="4.4" fill="url(#gDot)" stroke="#d96a1a" stroke-width=".6"/>
<circle cx="1407.1" cy="568.5" r="4.4" fill="url(#gDot)" stroke="#d96a1a" stroke-width=".6"/>
<circle cx="1394.8" cy="576.9" r="4.4" fill="url(#gDot)" stroke="#d96a1a" stroke-width=".6"/>
<circle cx="1386.4" cy="582.1" r="4.4" fill="url(#gDot)" stroke="#d96a1a" stroke-width=".6"/>
<circle cx="1407.1" cy="579.9" r="4.4" fill="url(#gDot)" stroke="#d96a1a" stroke-width=".6"/>
<circle cx="1397.4" cy="588.6" r="4.4" fill="url(#gDot)" stroke="#d96a1a" stroke-width=".6"/>
<circle cx="1281.3" cy="612.0" r="20.5" fill="url(#gVes)" stroke="#2c5ea4" stroke-width="2"/>
<circle cx="1271.3" cy="606.0" r="4.2" fill="url(#gDot)" stroke="#d96a1a" stroke-width=".6"/>
<circle cx="1280.3" cy="600.0" r="4.2" fill="url(#gDot)" stroke="#d96a1a" stroke-width=".6"/>
<circle cx="1290.3" cy="605.0" r="4.2" fill="url(#gDot)" stroke="#d96a1a" stroke-width=".6"/>
<circle cx="1270.3" cy="617.0" r="4.2" fill="url(#gDot)" stroke="#d96a1a" stroke-width=".6"/>
<circle cx="1280.3" cy="611.0" r="4.2" fill="url(#gDot)" stroke="#d96a1a" stroke-width=".6"/>
<circle cx="1290.3" cy="615.5" r="4.2" fill="url(#gDot)" stroke="#d96a1a" stroke-width=".6"/>
<circle cx="1279.3" cy="622.5" r="4.2" fill="url(#gDot)" stroke="#d96a1a" stroke-width=".6"/>
<circle cx="1291.3" cy="623.0" r="4.2" fill="url(#gDot)" stroke="#d96a1a" stroke-width=".6"/>
<circle cx="1243.3" cy="671.5" r="20.5" fill="url(#gVes)" stroke="#2c5ea4" stroke-width="2"/>
<circle cx="1234.3" cy="670.0" r="4.6" fill="url(#gDot)" stroke="#d96a1a" stroke-width=".6"/>
<circle cx="1248.3" cy="663.5" r="4.6" fill="url(#gDot)" stroke="#d96a1a" stroke-width=".6"/>
<circle cx="1252.3" cy="666.0" r="4.6" fill="url(#gDot)" stroke="#d96a1a" stroke-width=".6"/>
<circle cx="1244.8" cy="680.0" r="4.6" fill="url(#gDot)" stroke="#d96a1a" stroke-width=".6"/>
<circle cx="1262.0" cy="526.0" r="9.2" fill="url(#gDot)" stroke="#d9691b" stroke-width=".8"/>
<circle cx="1315.0" cy="523.0" r="9.2" fill="url(#gDot)" stroke="#d9691b" stroke-width=".8"/>
<circle cx="1362.0" cy="537.0" r="9.2" fill="url(#gDot)" stroke="#d9691b" stroke-width=".8"/>
<circle cx="1243.3" cy="576.0" r="9.2" fill="url(#gDot)" stroke="#d9691b" stroke-width=".8"/>
<circle cx="1445.1" cy="686.4" r="9.2" fill="url(#gDot)" stroke="#d9691b" stroke-width=".8"/>
<circle cx="1400.0" cy="709.0" r="9.2" fill="url(#gDot)" stroke="#d9691b" stroke-width=".8"/>
<circle cx="1504.0" cy="702.0" r="9.2" fill="url(#gDot)" stroke="#d9691b" stroke-width=".8"/>
<circle cx="1467.2" cy="725.0" r="9.2" fill="url(#gDot)" stroke="#d9691b" stroke-width=".8"/>
<circle cx="1524.6" cy="734.7" r="9.2" fill="url(#gDot)" stroke="#d9691b" stroke-width=".8"/>
<circle cx="1362.3" cy="741.0" r="9.2" fill="url(#gDot)" stroke="#d9691b" stroke-width=".8"/>
<circle cx="1401.3" cy="748.6" r="9.2" fill="url(#gDot)" stroke="#d9691b" stroke-width=".8"/>
<circle cx="1449.8" cy="759.1" r="9.2" fill="url(#gDot)" stroke="#d9691b" stroke-width=".8"/>
<circle cx="1326.0" cy="759.0" r="9.2" fill="url(#gDot)" stroke="#d9691b" stroke-width=".8"/>
<circle cx="1542.0" cy="758.0" r="9.2" fill="url(#gDot)" stroke="#d9691b" stroke-width=".8"/>
<circle cx="1353.3" cy="787.0" r="9.2" fill="url(#gDot)" stroke="#d9691b" stroke-width=".8"/>
<circle cx="1427.3" cy="790.6" r="9.2" fill="url(#gDot)" stroke="#d9691b" stroke-width=".8"/>
<circle cx="1368.3" cy="832.7" r="9.2" fill="url(#gDot)" stroke="#d9691b" stroke-width=".8"/>
<circle cx="1468.2" cy="837.8" r="9.2" fill="url(#gDot)" stroke="#d9691b" stroke-width=".8"/>
<circle cx="1415.7" cy="857.2" r="9.2" fill="url(#gDot)" stroke="#d9691b" stroke-width=".8"/>
<circle cx="1569.3" cy="914.0" r="9.2" fill="url(#gDot)" stroke="#d9691b" stroke-width=".8"/>
<circle cx="1365.6" cy="659.8" r="7.4" fill="url(#gDot)" stroke="#d9691b" stroke-width=".8"/>
<circle cx="1381.2" cy="663.7" r="7.4" fill="url(#gDot)" stroke="#d9691b" stroke-width=".8"/>
<circle cx="1306.0" cy="696.6" r="7.4" fill="url(#gDot)" stroke="#d9691b" stroke-width=".8"/>
<circle cx="1321.0" cy="700.8" r="7.4" fill="url(#gDot)" stroke="#d9691b" stroke-width=".8"/>
<g fill="url(#gTr)" stroke="#d8593a" stroke-width="1">
<use href="#trn" transform="translate(1256.6,730.6)"/>
</g>
<g fill="none" stroke="#d25f3c" stroke-width="9.6" stroke-linecap="round"><path d="M1420.9,605 Q1417.9,626.4 1449.6,626.1"/><path d="M1406.8,625.5 Q1430.5,630.4 1433.6,649"/></g>
<g fill="none" stroke="#f39a6e" stroke-width="7.6" stroke-linecap="round"><path d="M1420.9,605 Q1417.9,626.4 1449.6,626.1"/><path d="M1406.8,625.5 Q1430.5,630.4 1433.6,649"/></g>
<path d="M1406.5,605 C1407.5,610 1409,612 1411,613.5 L1416.5,619" fill="none" stroke="#a63a22" stroke-width="1.6" stroke-linecap="round"/>
<g fill="#3a79b6" stroke="#1f528d" stroke-width="1.4" stroke-linejoin="round">
<use href="#rec" transform="translate(1422.0,875.5) rotate(-20)"/>
<use href="#rec" transform="translate(1479.3,856.5) rotate(-30)"/>
<use href="#rec" transform="translate(1527.0,818.0) rotate(-48)"/>
<use href="#rec" transform="translate(1559.0,769.0) rotate(-55)"/>
</g>
<circle cx="1542.0" cy="758.0" r="9.2" fill="url(#gDot)" stroke="#d9691b" stroke-width=".8"/>
<circle cx="1468.2" cy="837.8" r="9.2" fill="url(#gDot)" stroke="#d9691b" stroke-width=".8"/>
<circle cx="1415.7" cy="857.2" r="9.2" fill="url(#gDot)" stroke="#d9691b" stroke-width=".8"/>
<path d="M1322.8,714.6 L1336,731" fill="none" stroke="#1a1a1a" stroke-width="3.4" stroke-linecap="round"/>
<polygon points="0.0,0.0 -17.2,-9.3 -11.7,0.0 -17.2,9.3" fill="#1a1a1a" transform="translate(1343.3,740.0) rotate(51.0)"/>
<path d="M1506.5,799.3 C1498,790 1490,778 1484,765" fill="none" stroke="#1a1a1a" stroke-width="3.0" stroke-linecap="round"/>
<polygon points="0.0,0.0 -16.1,-8.7 -10.9,0.0 -16.1,8.7" fill="#1a1a1a" transform="translate(1479.7,755.2) rotate(-114.0)"/>
<path d="M1497,881 C1508,897 1522,907 1537,911.5" fill="none" stroke="#1a1a1a" stroke-width="3.2" stroke-linecap="round"/>
<polygon points="0.0,0.0 -16.1,-8.7 -10.9,0.0 -16.1,8.7" fill="#1a1a1a" transform="translate(1546.0,914.5) rotate(17.0)"/>
<path d="M1573.4,896.9 C1574,878 1568,860 1555,845" fill="none" stroke="#1a1a1a" stroke-width="3.2" stroke-linecap="round"/>
<polygon points="0.0,0.0 -16.1,-8.7 -10.9,0.0 -16.1,8.7" fill="#1a1a1a" transform="translate(1548.5,837.3) rotate(-130.0)"/>
<path d="M1446,677 C1456,665 1455,652 1446,642" fill="none" stroke="#1a1a1a" stroke-width="3.4" stroke-linecap="round"/>
<polygon points="0.0,0.0 -16.1,-8.7 -10.9,0.0 -16.1,8.7" fill="#1a1a1a" transform="translate(1439.0,635.3) rotate(-137.0)"/>
<path d="M1448,538.5 C1478,515 1525,502 1565,502 C1590,502 1610,505 1628,510.5" fill="none" stroke="url(#gInh)" stroke-width="2.6" stroke-linecap="round"/>
<path d="M1441.5,531 L1454,548.5" stroke="#111" stroke-width="3" stroke-linecap="round"/>
<path d="M1455,643 L1471,640.4" stroke="#8ea9c9" stroke-width="1.5"/>
<rect x="1471" y="575" width="158" height="90" rx="4.5" fill="#dbe6f3" stroke="#8eabcc" stroke-width="1.6"/>
<g stroke="#1a1a1a" stroke-width="1.6" fill="none" stroke-linecap="round">
<path d="M1219.5,742.6 L1242,738"/>
<path d="M1351.5,796 L1328.5,822 L1360,831.5"/>
</g>
<path d="M1342,480 L1322.5,513" stroke="#e07a38" stroke-width="1.8" stroke-linecap="round"/>
<g font-family="Liberation Sans, sans-serif">
<text x="1301.0" y="389.5" font-size="25.0" font-weight="700" fill="#141414" textLength="355.7" lengthAdjust="spacingAndGlyphs">Under the Influence of Drugs</text>
<text x="1337.7" y="441.7" font-size="23.5" font-weight="700" fill="#dd7433" textLength="105.0" lengthAdjust="spacingAndGlyphs">Excessive</text>
<text x="1328.3" y="469.0" font-size="23.5" font-weight="700" fill="#dd7433" textLength="122.4" lengthAdjust="spacingAndGlyphs">Stimulation</text>
<text x="1504.0" y="467.7" font-size="25.0" fill="#161616" textLength="122.7" lengthAdjust="spacingAndGlyphs">Inhibition of</text>
<text x="1519.0" y="494.0" font-size="25.0" fill="#161616" textLength="92.7" lengthAdjust="spacingAndGlyphs">Restraint</text>
<text x="1076.7" y="575.0" font-size="25.0" fill="#161616" textLength="121.6" lengthAdjust="spacingAndGlyphs">Presynaptic</text>
<text x="1101.7" y="602.0" font-size="25.0" fill="#161616" textLength="71.6" lengthAdjust="spacingAndGlyphs">neuron</text>
<text x="1476.0" y="600.7" font-size="25.0" fill="#161616" textLength="148.0" lengthAdjust="spacingAndGlyphs">Drugs Prevent</text>
<text x="1496.0" y="628.3" font-size="25.0" fill="#161616" textLength="107.3" lengthAdjust="spacingAndGlyphs">Dopamine</text>
<text x="1496.7" y="655.0" font-size="25.0" fill="#161616" textLength="106.6" lengthAdjust="spacingAndGlyphs">Re-uptake</text>
<text x="1697.3" y="595.0" font-size="25.0" fill="#161616" textLength="112.0" lengthAdjust="spacingAndGlyphs">Regulatory</text>
<text x="1717.3" y="622.7" font-size="25.0" fill="#161616" textLength="72.0" lengthAdjust="spacingAndGlyphs">neuron</text>
<text x="1093.5" y="749.3" font-size="25.0" fill="#161616" textLength="121.7" lengthAdjust="spacingAndGlyphs">Presynaptic</text>
<text x="1118.0" y="776.7" font-size="25.0" fill="#161616" textLength="72.5" lengthAdjust="spacingAndGlyphs">neuron</text>
<text x="1215.9" y="831.2" font-size="25.0" fill="#161616" textLength="105.5" lengthAdjust="spacingAndGlyphs">Dopamine</text>
<text x="1655.6" y="770.7" font-size="25.0" fill="#161616" textLength="133.7" lengthAdjust="spacingAndGlyphs">Postsynaptic</text>
<text x="1686.2" y="798.5" font-size="25.0" fill="#161616" textLength="72.1" lengthAdjust="spacingAndGlyphs">neuron</text>
<text x="1666.9" y="1029.0" font-size="26.0" font-weight="700" fill="#141414" textLength="160.0" lengthAdjust="spacingAndGlyphs">Normal State</text>
</g>
</g>
</svg>
</body>
</html>
